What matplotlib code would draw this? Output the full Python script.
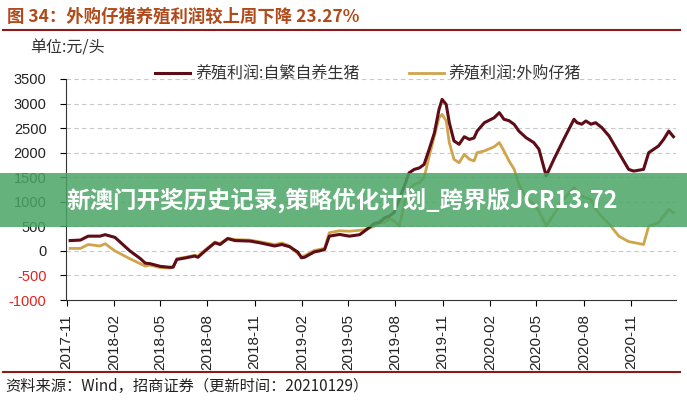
import pandas as pd
import numpy as np
import matplotlib
matplotlib.use('Agg')
import matplotlib.pyplot as plt
import matplotlib.dates as mdates

plt.rcParams['font.family'] = ['Liberation Sans', 'Noto Sans CJK SC', 'DejaVu Sans']

# data (yuan / head)
dates = [
    '2017-11-08', '2017-11-28', '2017-12-13', '2018-01-05', '2018-01-15', '2018-02-03',
    '2018-03-04', '2018-03-24', '2018-04-03', '2018-04-12', '2018-05-02', '2018-05-21',
    '2018-05-27', '2018-06-03', '2018-06-19', '2018-07-08', '2018-07-14', '2018-07-28',
    '2018-08-16', '2018-08-26', '2018-09-10', '2018-09-24', '2018-10-23', '2018-11-11',
    '2018-12-10', '2018-12-24', '2019-01-08', '2019-01-24', '2019-01-31', '2019-02-06',
    '2019-02-25', '2019-03-07', '2019-03-17', '2019-03-26', '2019-04-15', '2019-05-04',
    '2019-05-24', '2019-06-02', '2019-06-22', '2019-07-01', '2019-07-11', '2019-07-21',
    '2019-07-30', '2019-08-09', '2019-08-19', '2019-08-28', '2019-09-07', '2019-09-17',
    '2019-09-26', '2019-10-06', '2019-10-16', '2019-10-25', '2019-10-31', '2019-11-08',
    '2019-11-14', '2019-11-23', '2019-12-03', '2019-12-13', '2019-12-23', '2020-01-01',
    '2020-01-07', '2020-01-21', '2020-02-09', '2020-02-19', '2020-02-28', '2020-03-09',
    '2020-03-19', '2020-03-28', '2020-04-11', '2020-04-26', '2020-05-06', '2020-05-20',
    '2020-06-04', '2020-06-23', '2020-07-13', '2020-07-19', '2020-07-28', '2020-08-05',
    '2020-08-15', '2020-08-24', '2020-09-05', '2020-09-19', '2020-10-08', '2020-10-27',
    '2020-11-06', '2020-11-25', '2020-12-05', '2020-12-24', '2021-01-03', '2021-01-13',
    '2021-01-22',
]

self_bred = [
    210, 220, 300, 300, 330, 275,
    0, -155, -250, -260, -315, -335,
    -330, -175, -145, -105, -130, 0,
    165, 130, 250, 210, 200, 165,
    100, 130, 85, -25, -140, -130,
    -20, 0, 30, 300, 335, 300,
    330, 400, 560, 580, 670, 710,
    785, 1050, 1330, 1590, 1660, 1690,
    1760, 2070, 2400, 2880, 3085, 2980,
    2610, 2240, 2170, 2325, 2270, 2300,
    2440, 2610, 2710, 2815, 2680, 2650,
    2575, 2440, 2305, 2205, 2070, 1525,
    1865, 2270, 2680, 2610, 2580, 2645,
    2580, 2610, 2510, 2340, 2000, 1660,
    1625, 1660, 2000, 2135, 2270, 2440,
    2325,
]

bought_piglet = [
    50, 50, 130, 100, 145, 0,
    -160, -260, -310, -290, -340, -350,
    -330, -160, -130, -90, -110, 20,
    180, 150, 260, 230, 220, 185,
    130, 160, 100, -60, -110, -100,
    10, 30, 50, 370, 410, 400,
    420, 430, 505, 575, 580, 655,
    610, 505, 980, 1250, 1355, 1390,
    1490, 1930, 2340, 2710, 2780, 2645,
    2205, 1865, 1795, 1965, 1865, 1830,
    2000, 2035, 2120, 2205, 2035, 1830,
    1660, 1355, 1085, 945, 810, 505,
    745, 1050, 1290, 1220, 1115, 1080,
    1050, 845, 700, 550, 300, 190,
    170, 130, 505, 575, 710, 845,
    780,
]

series_names = ['养殖利润:自繁自养生猪', '养殖利润:外购仔猪']
y_ticks = [-1000, -500, 0, 500, 1000, 1500, 2000, 2500, 3000, 3500]
x_ticks = ['2017-11', '2018-02', '2018-05', '2018-08', '2018-11', '2019-02', '2019-05',
           '2019-08', '2019-11', '2020-02', '2020-05', '2020-08', '2020-11']

DARK = '#5e0c16'
GOLD = '#cfa44a'
CJK = ['Noto Sans CJK SC', 'DejaVu Sans']

x = pd.to_datetime(dates)

fig = plt.figure(figsize=(6.87, 4.00), dpi=100, facecolor='white')
ax = fig.add_axes([66 / 687, 1 - 300 / 400, 610 / 687, 221 / 400])

ax.plot(x, bought_piglet, color=GOLD, lw=2.0, zorder=3, label=series_names[1])
ax.plot(x, self_bred, color=DARK, lw=2.2, zorder=4, label=series_names[0])

ax.set_ylim(-1000, 3500)
ax.set_xlim(pd.Timestamp('2017-10-31'), pd.Timestamp('2021-01-27'))
ax.set_yticks(y_ticks)
ax.set_yticklabels([str(v) for v in y_ticks], fontsize=10.5)
for lab, v in zip(ax.get_yticklabels(), y_ticks):
    lab.set_color('#e0241f' if v < 0 else '#222222')

ax.set_xticks(pd.to_datetime([t + '-01' for t in x_ticks]))
ax.set_xticklabels(x_ticks, rotation=90, fontsize=11, color='#222222')

for v in y_ticks[1:]:
    ax.axhline(v, color='#c8c8c8', lw=0.8, ls=(0, (4, 3)), zorder=1)

for s in ['top', 'right']:
    ax.spines[s].set_visible(False)
ax.spines['left'].set_color('#333333')
ax.spines['bottom'].set_color('#333333')
ax.spines['left'].set_linewidth(0.8)
ax.spines['bottom'].set_linewidth(0.8)
ax.tick_params(axis='y', direction='out', length=4, width=0.8, pad=10)
ax.tick_params(axis='x', direction='out', length=4, width=0.8, pad=6)

# legend above the plot area
h, l = ax.get_legend_handles_labels()
leg = ax.legend(h[::-1], l[::-1], loc='lower left', bbox_to_anchor=(0.146, 0.985), ncol=2,
                frameon=False, prop={'family': CJK, 'size': 11.5},
                handlelength=2.2, columnspacing=3.1, handletextpad=0.3,
                labelcolor='#333333', borderaxespad=0, borderpad=0)

# header, unit and source
fig.text(7 / 687, 1 - 17 / 400, '图 34：外购仔猪养殖利润较上周下降 23.27%', family=CJK,
         fontsize=12.5, fontweight='bold', color='#b04a1a', va='center', ha='left')
fig.add_artist(plt.Line2D([3 / 687, 680 / 687], [1 - 30 / 400] * 2, color='#8b1a1a', lw=1.5))
fig.text(30 / 687, 1 - 48 / 400, '单位:元/头', family=CJK, fontsize=11.5, color='#333333',
         va='center', ha='left')
fig.add_artist(plt.Line2D([3 / 687, 680 / 687], [1 - 372 / 400] * 2, color='#8b1a1a', lw=1.5))
fig.text(5 / 687, 1 - 386 / 400, '资料来源：Wind，招商证券（更新时间：20210129）', family=CJK,
         fontsize=11, color='#222222', va='center', ha='left')

# green overlay banner
fig.add_artist(plt.Rectangle((0, 1 - 227 / 400), 1, 54 / 400, transform=fig.transFigure,
                             facecolor='#4aa566', alpha=0.85, edgecolor='none', zorder=10))
fig.text(66 / 687, 1 - 200 / 400, '新澳门开奖历史记录,策略优化计划_跨界版JCR13.72',
         family=['Noto Sans CJK SC', 'DejaVu Sans'], fontsize=16.9, fontweight='bold',
         color='white', va='center', ha='left', zorder=11)

fig.savefig('out.png', dpi=100, facecolor='white')
